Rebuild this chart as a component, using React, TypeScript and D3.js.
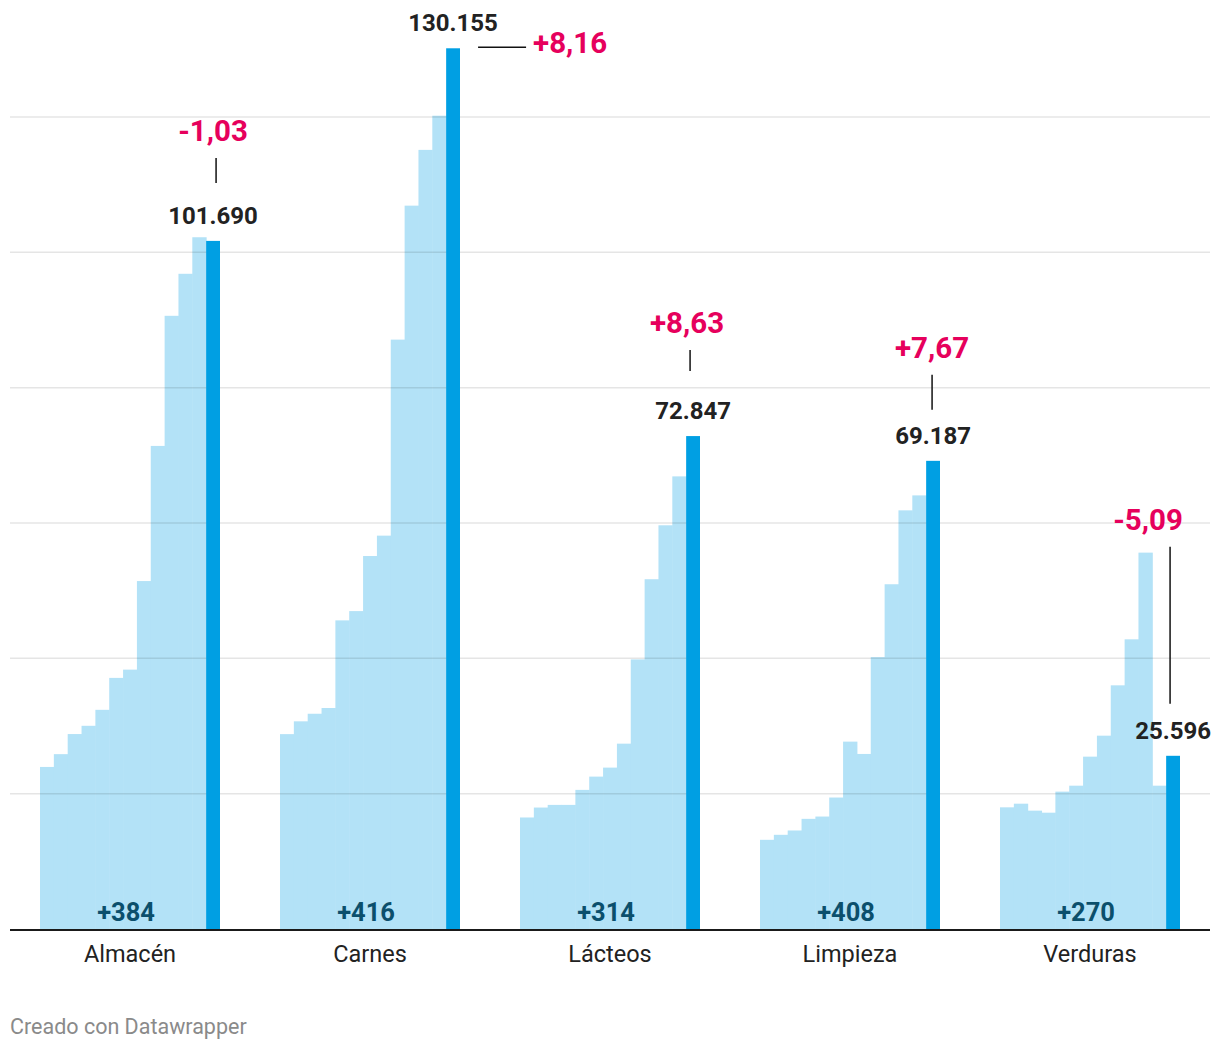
import React from "react";
import * as d3 from "d3";

const categories = ["Almacén", "Carnes", "Lácteos", "Limpieza", "Verduras"];

// 12 previous periods (light bars) per category
const historyAlmacen = [23950, 25840, 28810, 30030, 32390, 37110, 38330, 51420, 71390, 90620, 96830, 102230];
const historyCarnes = [28800, 30690, 31810, 32660, 45610, 46980, 55120, 58130, 87100, 106900, 115140, 120190];
const historyLacteos = [16480, 17950, 18340, 18340, 20560, 22520, 23850, 27390, 39840, 51690, 59660, 66890];
const historyLimpieza = [13180, 13920, 14560, 16280, 16620, 19430, 27690, 25870, 40180, 50950, 61870, 64080];
const historyVerduras = [17980, 18520, 17490, 17190, 20300, 21180, 25470, 28570, 36010, 42810, 55620, 21180];
const histories = [historyAlmacen, historyCarnes, historyLacteos, historyLimpieza, historyVerduras];

// latest value (dark bar)
const latestValues = [101690, 130155, 72847, 69187, 25596];
const latestLabels = ["101.690", "130.155", "72.847", "69.187", "25.596"];
// monthly change (%)
const changeLabels = ["-1,03", "+8,16", "+8,63", "+7,67", "-5,09"];
// change over the whole period (%)
const periodLabels = ["+384", "+416", "+314", "+408", "+270"];

const yTicks = [20000, 40000, 60000, 80000, 100000, 120000];

// annotation layout (relative to the dark bar)
const annotationLayout = [
  { mode: "above", dx: 0, textDy: -100, lineTop: -83, lineBottom: -58, lineDx: 3 },
  { mode: "side" },
  { mode: "above", dx: -6, textDy: -103, lineTop: -86, lineBottom: -65, lineDx: -3 },
  { mode: "above", dx: -1, textDy: -103, lineTop: -86, lineBottom: -51, lineDx: -1 },
  { mode: "above", dx: -25, textDy: -226, lineTop: -209, lineBottom: -52, lineDx: -3 },
];

const W = 1220;
const H = 1050;

export default function App() {
  const x = d3
    .scaleBand<string>()
    .domain(categories)
    .range([10, 1210])
    .paddingInner(0.25)
    .paddingOuter(0.125);
  const y = d3.scaleLinear().domain([0, 120000]).range([929, 117]);
  const slots = d3.range(13).map(String);
  const inner = d3.scaleBand<string>().domain(slots).range([0, x.bandwidth()]);

  const font = "Roboto, 'Noto Sans', sans-serif";
  const pink = "#e6005c";

  return (
    <svg
      width={W}
      height={H}
      style={{ position: "absolute", left: 0, top: 0, background: "#fff" }}
      fontFamily={font}
    >
      {/* light bars */}
      {categories.map((c, ci) => (
        <g key={"h" + c} transform={`translate(${x(c)},0)`}>
          {histories[ci].map((v, i) => (
            <rect
              key={i}
              x={inner(String(i))!}
              y={y(v)}
              width={inner.bandwidth() + 0.5}
              height={y(0) - y(v)}
              fill="#b3e2f7"
            />
          ))}
        </g>
      ))}
      {/* gridlines */}
      {yTicks.map((t) => (
        <line key={t} x1={10} x2={1210} y1={y(t)} y2={y(t)} stroke="rgba(0,0,0,0.1)" strokeWidth={1.5} />
      ))}
      {/* dark bars */}
      {categories.map((c, ci) => {
        const bx = x(c)! + inner("12")!;
        const v = latestValues[ci];
        return (
          <rect key={"d" + c} x={bx} y={y(v)} width={inner.bandwidth()} height={y(0) - y(v)} fill="#009fe3" />
        );
      })}
      {/* baseline */}
      <line x1={10} x2={1210} y1={y(0) + 1} y2={y(0) + 1} stroke="#1a1a1a" strokeWidth={2} />

      {/* labels */}
      {categories.map((c, ci) => {
        const bx = x(c)! + inner("12")!;
        const cx = bx + inner.bandwidth() / 2;
        const top = y(latestValues[ci]);
        const lightCx = x(c)! + inner("12")! / 2;
        const a = annotationLayout[ci] as any;
        return (
          <g key={"l" + c}>
            <text x={cx} y={top - 17} textAnchor="middle" fontSize={24} fontWeight={700} fill="#222">
              {latestLabels[ci]}
            </text>
            {a.mode === "above" ? (
              <g>
                <text x={cx + a.dx} y={top + a.textDy} textAnchor="middle" fontSize={29.5} fontWeight={700} fill={pink}>
                  {changeLabels[ci]}
                </text>
                <line
                  x1={cx + a.lineDx}
                  x2={cx + a.lineDx}
                  y1={top + a.lineTop}
                  y2={top + a.lineBottom}
                  stroke="#111"
                  strokeWidth={1.5}
                />
              </g>
            ) : (
              <g>
                <line x1={cx + 25} x2={cx + 73} y1={top - 1} y2={top - 1} stroke="#111" strokeWidth={1.5} />
                <text x={cx + 80} y={top + 5} textAnchor="start" fontSize={29.5} fontWeight={700} fill={pink}>
                  {changeLabels[ci]}
                </text>
              </g>
            )}
            <text x={lightCx + 3} y={921} textAnchor="middle" fontSize={25.5} fontWeight={700} fill="#0b4f6c">
              {periodLabels[ci]}
            </text>
            <text x={x(c)! + x.bandwidth() / 2} y={962} textAnchor="middle" fontSize={23.5} fill="#222">
              {c}
            </text>
          </g>
        );
      })}

      <text x={10} y={1034} fontSize={21.5} fill="#8a8a8a">
        Creado con Datawrapper
      </text>
    </svg>
  );
}
